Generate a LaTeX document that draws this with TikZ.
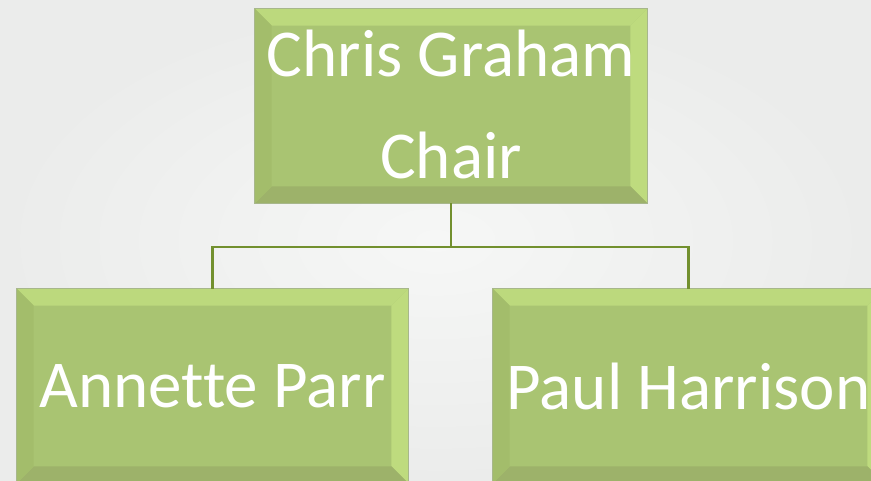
\documentclass[tikz,border=0pt]{standalone}
\usepackage{fontspec}
\setmainfont{Carlito}[Ligatures={NoCommon}]
\usetikzlibrary{calc}
\definecolor{bgin}{HTML}{F6F7F6}
\definecolor{bgout}{HTML}{EBECEB}
\definecolor{boxfill}{HTML}{A9C472}
\definecolor{bevtopc}{HTML}{BCD97D}
\definecolor{bevrightc}{HTML}{BEDB7E}
\definecolor{bevleftc}{HTML}{A3BD6B}
\definecolor{bevbotc}{HTML}{9DB26A}
\definecolor{boxline}{HTML}{A7B78B}
\definecolor{connc}{HTML}{72902E}
\tikzset{
  orgbox/.style={rectangle, fill=boxfill, draw=boxline, line width=0.8pt, inner sep=0pt,
                 minimum width=391pt, minimum height=194pt},
  orgtext/.style={text=white, align=center, inner sep=0pt,
                  font=\fontsize{67}{102}\selectfont},
  conn/.style={draw=connc, line width=2.7pt}
}
\newcommand{\bevelof}[1]{%
  \fill[bevtopc] (#1.north west) -- (#1.north east) -- ($(#1.north east)+(-17pt,-17pt)$) -- ($(#1.north west)+(17pt,-17pt)$) -- cycle;
  \fill[bevrightc] (#1.north east) -- (#1.south east) -- ($(#1.south east)+(-17pt,17pt)$) -- ($(#1.north east)+(-17pt,-17pt)$) -- cycle;
  \fill[bevbotc] (#1.south east) -- (#1.south west) -- ($(#1.south west)+(17pt,17pt)$) -- ($(#1.south east)+(-17pt,17pt)$) -- cycle;
  \fill[bevleftc] (#1.south west) -- (#1.north west) -- ($(#1.north west)+(17pt,-17pt)$) -- ($(#1.south west)+(17pt,17pt)$) -- cycle;
  \draw[boxline, line width=0.8pt] (#1.north west) rectangle (#1.south east);
}
\begin{document}
\begin{tikzpicture}[x=1pt,y=-1pt]
\useasboundingbox (0,0) rectangle (871,481);
\shade[inner color=bgin, outer color=bgout] (0,0) rectangle (871,481);
\coordinate (bar) at (451,247);
\node[orgbox, minimum width=392pt] (top) at (451,106) {};
\node[orgbox] (left) at (212.5,386) {};
\node[orgbox] (right) at (688.5,386) {};
\bevelof{top}
\bevelof{left}
\bevelof{right}
\draw[conn] (top.south) -- (top.south |- bar) -| (left.north);
\draw[conn] (top.south |- bar) -| (right.north);
\node[orgtext] (ttop) at ($(top.center)+(0pt,2pt)$) {Chris Graham\\Chair};
\node[orgtext] (tleft) at (left.center) {Annette Parr};
\node[orgtext] (tright) at (right.center) {Paul Harrison};
\end{tikzpicture}
\end{document}
